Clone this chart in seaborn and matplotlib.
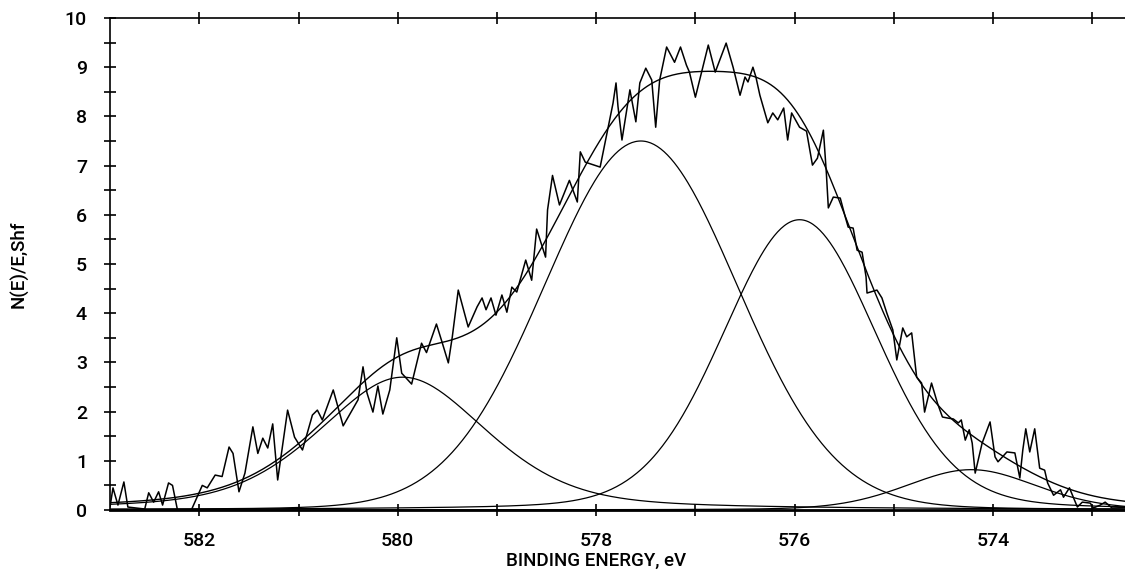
import numpy as np
import pandas as pd
import matplotlib
matplotlib.use("Agg")
import matplotlib.pyplot as plt
import seaborn as sns
from matplotlib.ticker import MultipleLocator, FixedLocator

# ---------------- data ----------------
raw_energy = [582.90, 582.87, 582.82, 582.76, 582.72, 582.55, 582.51, 582.46, 582.41, 582.37,
              582.31, 582.27, 582.22, 582.08, 581.97, 581.92, 581.84, 581.77, 581.70, 581.66,
              581.60, 581.54, 581.46, 581.41, 581.36, 581.31, 581.26, 581.21, 581.11, 581.04,
              580.96, 580.86, 580.81, 580.76, 580.65, 580.55, 580.46, 580.40, 580.35, 580.31,
              580.25, 580.20, 580.15, 580.08, 580.01, 579.96, 579.86, 579.76, 579.71, 579.61,
              579.55, 579.49, 579.45, 579.39, 579.29, 579.20, 579.15, 579.11, 579.06, 579.01,
              578.95, 578.90, 578.85, 578.80, 578.71, 578.65, 578.60, 578.55, 578.51, 578.49,
              578.44, 578.37, 578.27, 578.19, 578.16, 578.11, 577.96, 577.83, 577.80, 577.78,
              577.74, 577.66, 577.60, 577.56, 577.50, 577.44, 577.40, 577.36, 577.29, 577.21,
              577.15, 577.09, 577.06, 577.00, 576.87, 576.80, 576.69, 576.62, 576.55, 576.50,
              576.47, 576.42, 576.39, 576.35, 576.27, 576.22, 576.17, 576.11, 576.07, 576.03,
              575.95, 575.88, 575.82, 575.77, 575.71, 575.68, 575.66, 575.61, 575.54, 575.49,
              575.46, 575.41, 575.37, 575.32, 575.28, 575.27, 575.17, 575.12, 575.07, 575.01,
              574.97, 574.91, 574.87, 574.82, 574.77, 574.72, 574.69, 574.62, 574.56, 574.51,
              574.46, 574.40, 574.35, 574.32, 574.28, 574.24, 574.21, 574.18, 574.11, 574.03,
              573.98, 573.95, 573.86, 573.78, 573.73, 573.70, 573.67, 573.63, 573.58, 573.53,
              573.48, 573.45, 573.39, 573.32, 573.29, 573.23, 573.15, 573.10, 573.02, 572.99,
              572.92, 572.87, 572.80, 572.67]
raw_intensity = [0.06, 0.45, 0.10, 0.57, 0.06, 0.02, 0.35, 0.16, 0.37, 0.10,
                 0.55, 0.50, 0.00, 0.00, 0.50, 0.45, 0.71, 0.68, 1.28, 1.15,
                 0.37, 0.75, 1.69, 1.15, 1.46, 1.26, 1.75, 0.61, 2.03, 1.48,
                 1.22, 1.93, 2.03, 1.83, 2.44, 1.71, 2.03, 2.24, 2.91, 2.38,
                 1.99, 2.52, 1.95, 2.44, 3.50, 2.78, 2.56, 3.39, 3.20, 3.78,
                 3.39, 2.99, 3.52, 4.47, 3.72, 4.13, 4.31, 4.07, 4.31, 3.96,
                 4.37, 4.02, 4.53, 4.43, 5.08, 4.67, 5.71, 5.39, 5.14, 6.10,
                 6.80, 6.20, 6.70, 6.26, 7.28, 7.07, 6.97, 8.27, 8.68, 8.20,
                 7.52, 8.54, 7.89, 8.68, 8.98, 8.74, 7.78, 8.74, 9.41, 9.10,
                 9.41, 9.04, 8.90, 8.39, 9.45, 8.90, 9.49, 9.00, 8.43, 8.80,
                 8.70, 9.00, 8.80, 8.43, 7.87, 8.07, 7.93, 8.17, 7.52, 8.07,
                 7.78, 7.70, 7.01, 7.15, 7.72, 6.85, 6.14, 6.36, 6.34, 5.96,
                 5.75, 5.73, 5.28, 5.24, 4.74, 4.41, 4.47, 4.31, 4.00, 3.66,
                 3.05, 3.70, 3.52, 3.60, 2.70, 2.58, 1.99, 2.58, 2.17, 1.89,
                 1.87, 1.85, 1.77, 1.83, 1.42, 1.63, 1.36, 0.75, 1.36, 1.79,
                 1.08, 0.98, 1.18, 1.16, 0.65, 1.22, 1.65, 1.18, 1.65, 0.85,
                 0.81, 0.55, 0.30, 0.41, 0.26, 0.45, 0.06, 0.16, 0.14, 0.04,
                 0.10, 0.16, 0.04, 0.05]

# fitted peak components (Gauss-Lorentz)
peak_centers = [579.95, 577.55, 575.95, 574.22]   # eV
peak_heights = [2.70, 7.50, 5.90, 0.82]
peak_fwhm = [2.00, 2.30, 1.83, 1.55]
peak_lorentz_frac = [0.40, 0.05, 0.15, 0.20]

x_major_ticks = [582, 580, 578, 576, 574]
y_major_ticks = [0, 1, 2, 3, 4, 5, 6, 7, 8, 9, 10]
x_label = "BINDING ENERGY, eV"
y_label = "N(E)/E,Shf"

# ---------------- figure ----------------
sns.set_style("ticks")
plt.rcParams["font.family"] = ["Roboto", "DejaVu Sans"]
plt.rcParams["text.color"] = "black"
plt.rcParams["axes.labelcolor"] = "black"
plt.rcParams["xtick.color"] = "black"
plt.rcParams["ytick.color"] = "black"

fig = plt.figure(figsize=(11.25, 5.73), dpi=100)
ax = fig.add_axes([110 / 1125, 1 - 510 / 573, 1 - 110 / 1125, (510 - 18) / 573])

x_lo, x_hi = 582.90, 572.67
grid = np.linspace(x_lo, x_hi, 600)


def gl_peak(e, c, h, f, m):
    d2 = 4.0 * (e - c) ** 2 / f ** 2
    return h * ((1 - m) * np.exp(-np.log(2) * d2) + m / (1 + d2))


comps = [gl_peak(grid, c, h, f, m) for c, h, f, m in
         zip(peak_centers, peak_heights, peak_fwhm, peak_lorentz_frac)]
envelope = np.sum(comps, axis=0)

for comp in comps:
    sns.lineplot(x=grid, y=comp, ax=ax, color="black", lw=0.9, sort=False)
sns.lineplot(x=grid, y=envelope, ax=ax, color="black", lw=1.0, sort=False)
raw_df = pd.DataFrame({"E": raw_energy, "I": raw_intensity})
sns.lineplot(data=raw_df, x="E", y="I", ax=ax, color="black", lw=1.1, sort=False)

ax.set_xlim(x_lo, x_hi)
ax.set_ylim(0, 10)

ax.xaxis.set_major_locator(FixedLocator(x_major_ticks))
ax.xaxis.set_minor_locator(MultipleLocator(1))
ax.yaxis.set_major_locator(FixedLocator(y_major_ticks))
ax.yaxis.set_minor_locator(MultipleLocator(0.5))

tick_font = dict(fontsize=14, fontweight="medium", color="black")
ax.set_xticklabels([str(t) for t in x_major_ticks], **tick_font)
ax.set_yticklabels([str(t) for t in y_major_ticks], **tick_font)

ax.tick_params(axis="both", which="both", direction="inout", length=9,
               width=1.2, color="black", top=True, right=False)
ax.tick_params(axis="x", which="major", pad=11)
ax.tick_params(axis="y", which="major", pad=12)

for side in ["left", "top"]:
    ax.spines[side].set_linewidth(1.2)
    ax.spines[side].set_color("black")
ax.spines["bottom"].set_linewidth(2.0)
ax.spines["bottom"].set_color("black")
ax.spines["right"].set_visible(False)

ax.set_xlabel(x_label, fontsize=13.5, fontweight="medium", color="black")
ax.set_ylabel(y_label, fontsize=13.5, fontweight="medium", color="black")
ax.xaxis.set_label_coords(0.479, -0.086)
ax.yaxis.set_label_coords(-0.080, 0.5)

fig.savefig("out.png", dpi=100, facecolor="white")
